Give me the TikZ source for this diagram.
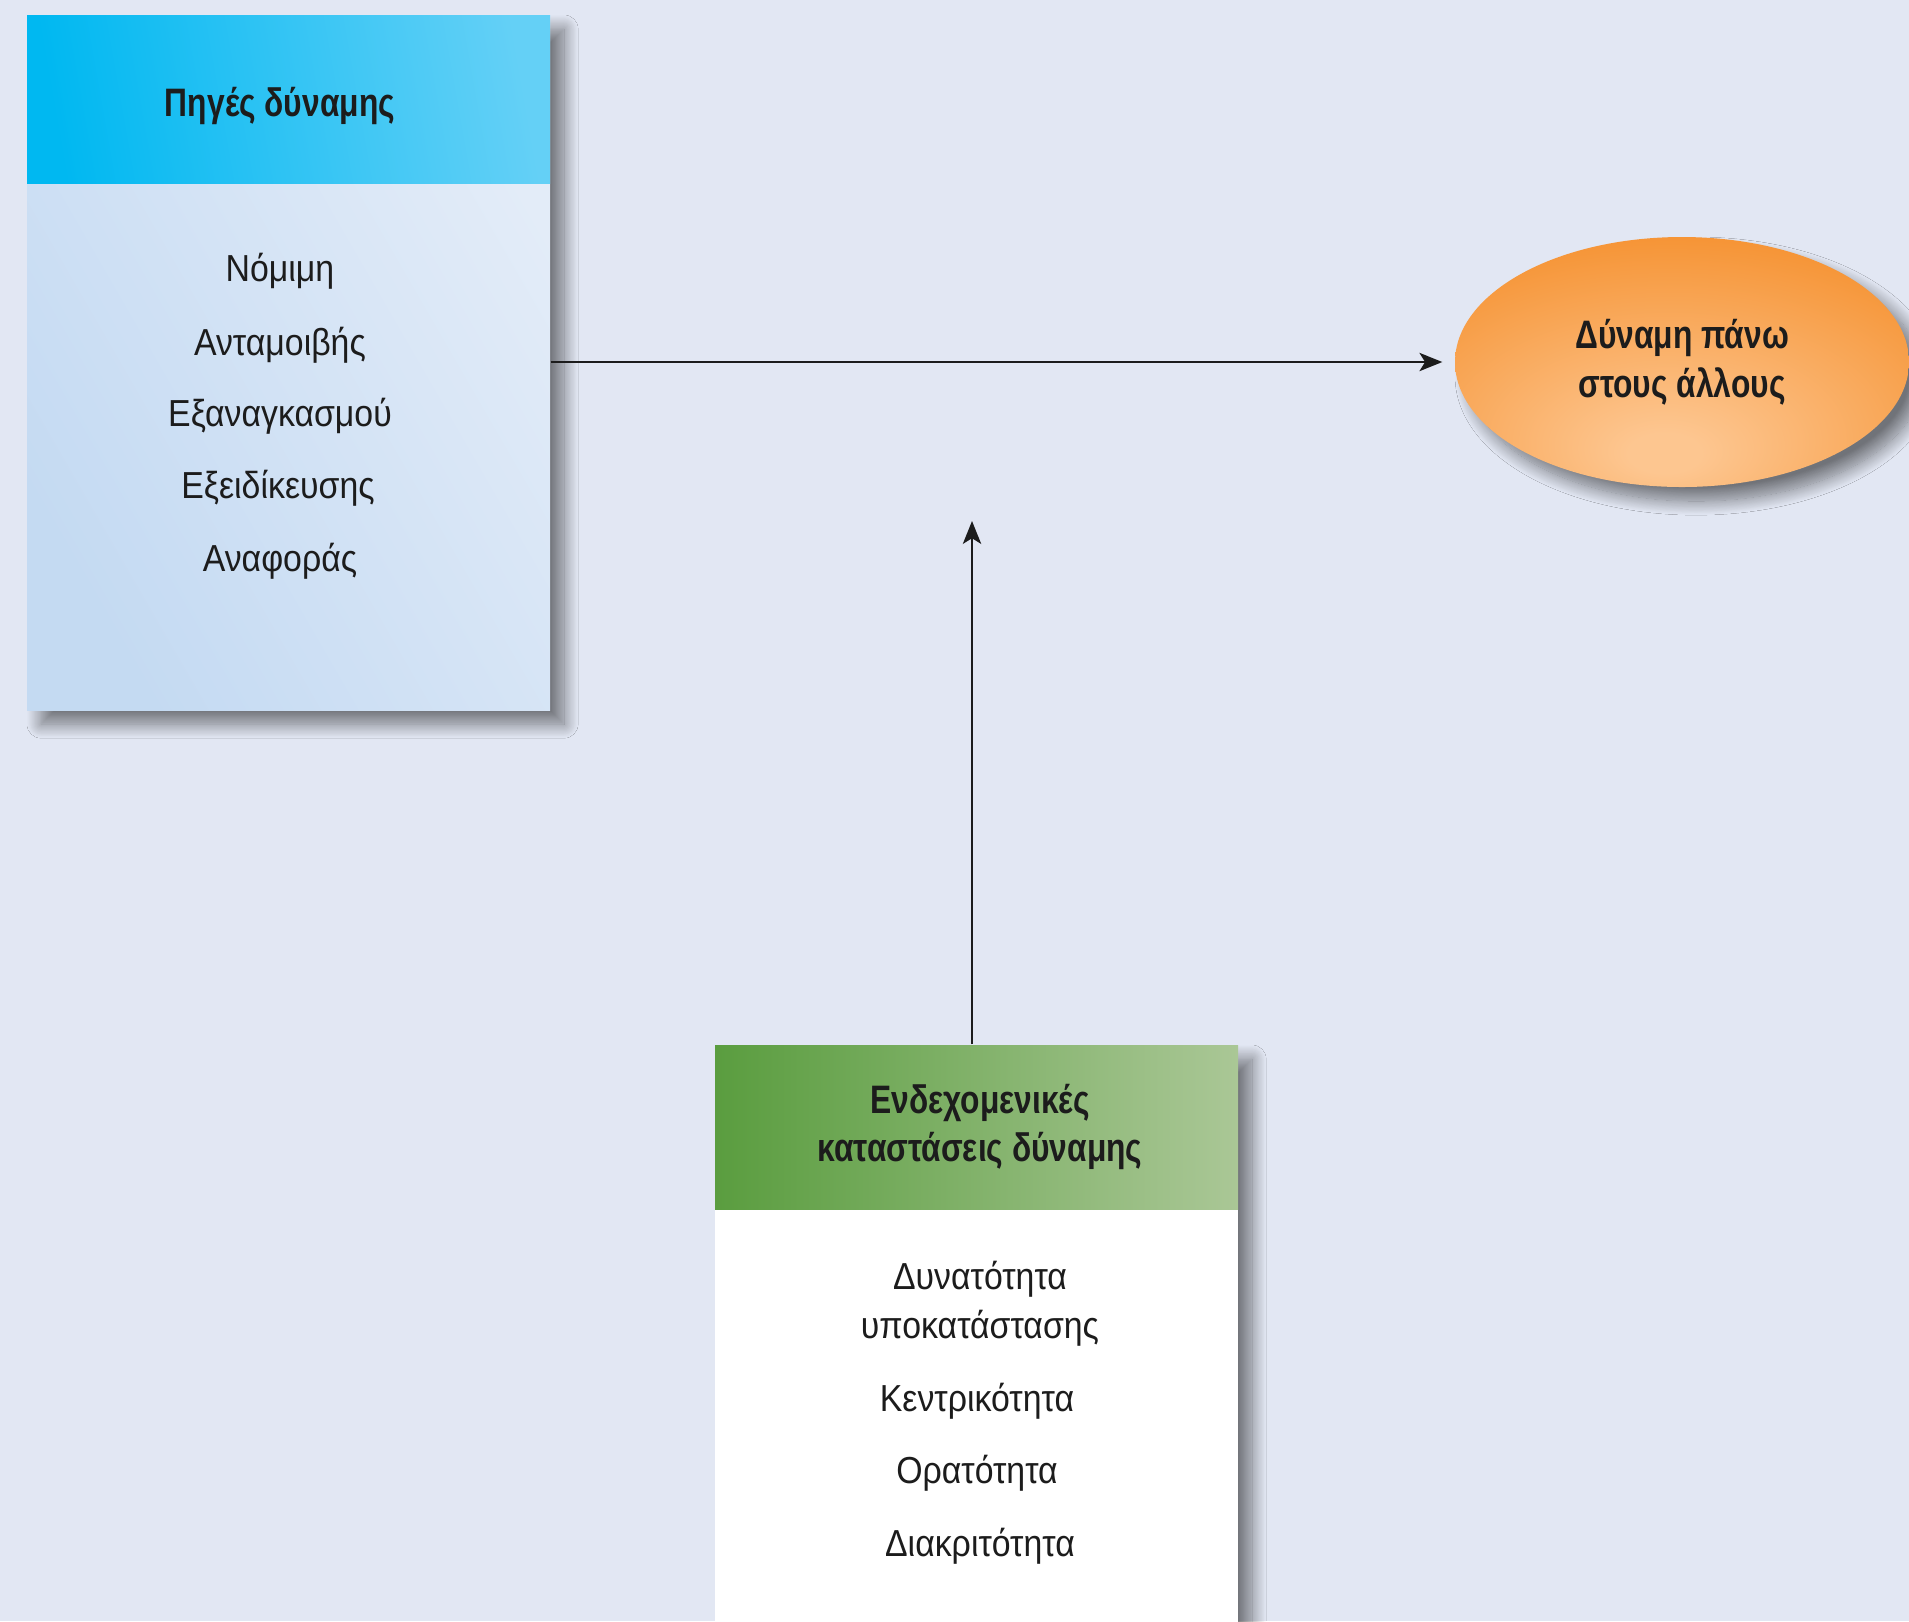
\documentclass[tikz,border=0pt]{standalone}
\usepackage{fontspec}
\setmainfont{Liberation Sans}[FakeStretch=0.9]
\newfontfamily\headfont{Liberation Sans}[FakeStretch=0.8]
\usetikzlibrary{arrows.meta,shapes.geometric,shadows.blur}

\definecolor{pagebg}{HTML}{E2E7F3}
\definecolor{cyanL}{HTML}{00B8F1}
\definecolor{cyanR}{HTML}{64D0F6}
\definecolor{paleL}{HTML}{C4DAF2}
\definecolor{paleR}{HTML}{E3ECF8}
\definecolor{greenL}{HTML}{5A9D3F}
\definecolor{greenR}{HTML}{AAC796}
\definecolor{orglow}{HTML}{FDC690}
\definecolor{orgout}{HTML}{F5902E}
\definecolor{inktext}{HTML}{1C1C1C}

\pgfdeclareradialshading{dynglow}{\pgfpoint{-2bp}{-19bp}}{color(0bp)=(orglow); color(4bp)=(orglow); color(40bp)=(orgout); color(100bp)=(orgout)}

\tikzset{
  boxshadow/.style={blur shadow={shadow xshift=4pt, shadow yshift=-4pt, shadow blur radius=4pt, shadow blur steps=20, shadow opacity=50}},
  panel/.style={rectangle, inner sep=0pt, minimum width=5.23cm, boxshadow},
  headbar/.style={rectangle, inner sep=0pt, minimum width=5.23cm, anchor=north},
  headtext/.style={text=inktext, font=\headfont\bfseries\fontsize{11.3}{13.9}\selectfont, align=center, inner sep=1pt},
  item/.style={text=inktext, font=\fontsize{10.7}{13.9}\selectfont, align=center, inner sep=1pt},
  link/.style={->, line width=0.6pt, draw=inktext, >={Stealth[length=6.5pt, width=5.2pt, inset=1.6pt]}}
}

\begin{document}
\begin{tikzpicture}
  % page
  \useasboundingbox (0,0) rectangle (19.09,-16.21);
  \fill[pagebg] (0,0) rectangle (19.09,-16.21);

  % sources of power
  \node[panel, minimum height=6.95cm, left color=paleL, right color=paleR, shading angle=120] (srcbox) at (2.885,-3.625) {};
  \node[headbar, minimum height=1.68cm, left color=cyanL, right color=cyanR, shading angle=100] (srchead) at (srcbox.north) {};
  \node[headtext] (srctitle) at (2.80,-1.06) {Πηγές δύναμης};

  \node[item] (legit) at (2.80,-2.71) {Νόμιμη};
  \node[item] (reward) at (2.80,-3.45) {Ανταμοιβής};
  \node[item] (coerce) at (2.80,-4.16) {Εξαναγκασμού};
  \node[item] (expert) at (2.78,-4.88) {Εξειδίκευσης};
  \node[item] (refer) at (2.80,-5.61) {Αναφοράς};

  % power over others
  \node[ellipse, inner sep=0pt, minimum width=4.54cm, minimum height=2.5cm, shading=dynglow, boxshadow,
    headtext] (dyn) at (16.82,-3.62) {Δύναμη πάνω\\στους άλλους};

  % contingencies
  \node[panel, minimum height=6.6cm, fill=white] (ctxbox) at (9.765,-13.75) {};
  \node[headbar, minimum height=1.64cm, left color=greenL, right color=greenR] (ctxhead) at (ctxbox.north) {};
  \node[headtext] (ctxtitle) at (9.80,-11.27) {Ενδεχομενικές\\καταστάσεις δύναμης};

  \node[item] (subst) at (9.80,-13.04) {Δυνατότητα\\υποκατάστασης};
  \node[item] (central) at (9.77,-14.01) {Κεντρικότητα};
  \node[item] (visible) at (9.77,-14.73) {Ορατότητα};
  \node[item] (discrete) at (9.80,-15.46) {Διακριτότητα};

  % arrows
  \coordinate (tip) at (9.72,-5.21);
  \draw[link, shorten >=0.12cm] (srcbox.east |- dyn.west) -- (dyn.west);
  \draw[link] (ctxhead.north -| tip) -- (tip);
\end{tikzpicture}
\end{document}
